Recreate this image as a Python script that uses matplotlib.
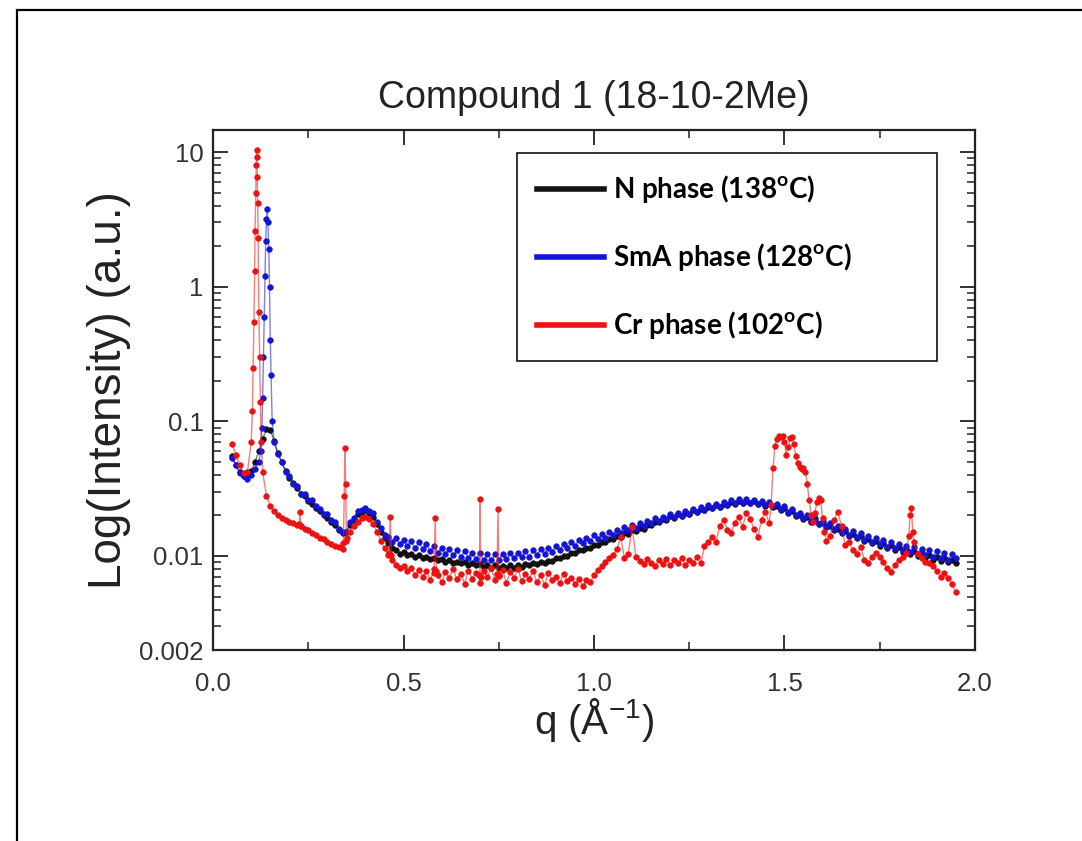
import numpy as np
import matplotlib
matplotlib.use("Agg")
import matplotlib.pyplot as plt
from matplotlib.lines import Line2D
from matplotlib.patches import Rectangle
from matplotlib.ticker import LogLocator, MultipleLocator, NullFormatter

plt.rcParams['font.family'] = ['Liberation Sans', 'DejaVu Sans']
plt.rcParams['mathtext.fontset'] = 'custom'
plt.rcParams['mathtext.bf'] = 'Lato:bold'
plt.rcParams['mathtext.rm'] = 'Lato:bold'

# q sampling grid, 0.05 .. 1.95 in steps of 0.01 (191 points)
q_grid = np.round(0.05 + 0.01 * np.arange(191), 3)

# N phase (138 C)
n_phase = [
    0.055, 0.047, 0.042, 0.039, 0.039, 0.043, 0.050, 0.060, 0.074, 0.088,
    0.086, 0.072, 0.058, 0.050, 0.043, 0.038, 0.035, 0.032, 0.029, 0.028,
    0.0255, 0.0245, 0.0228, 0.0215, 0.0200, 0.0193, 0.0180, 0.0170, 0.0155, 0.0148,
    0.0152, 0.0170, 0.0186, 0.0205, 0.0212, 0.0218, 0.0208, 0.0196, 0.0172, 0.0152,
    0.0136, 0.0124, 0.0115, 0.0110, 0.0104, 0.0107, 0.0101, 0.0104, 0.0099, 0.0101,
    0.0097, 0.0099, 0.0095, 0.0097, 0.0093, 0.0095, 0.0091, 0.0093, 0.0089, 0.0091,
    0.0088, 0.0090, 0.0086, 0.0088, 0.0085, 0.0087, 0.0083, 0.0086, 0.0082, 0.0085,
    0.0082, 0.0084, 0.0081, 0.0085, 0.0082, 0.0086, 0.0083, 0.0087, 0.0085, 0.0088,
    0.0087, 0.0090, 0.0089, 0.0092, 0.0092, 0.0096, 0.0096, 0.0100, 0.0100, 0.0105,
    0.0105, 0.0110, 0.0110, 0.0115, 0.0115, 0.0121, 0.0120, 0.0127, 0.0126, 0.0133,
    0.0133, 0.0140, 0.0139, 0.0147, 0.0146, 0.0155, 0.0153, 0.0162, 0.0160, 0.0170,
    0.0170, 0.0180, 0.0178, 0.0189, 0.0186, 0.0197, 0.0193, 0.0204, 0.0199, 0.0210,
    0.0206, 0.0218, 0.0213, 0.0225, 0.0219, 0.0232, 0.0226, 0.0239, 0.0232, 0.0245,
    0.0240, 0.0252, 0.0245, 0.0256, 0.0247, 0.0258, 0.0246, 0.0255, 0.0242, 0.0251,
    0.0237, 0.0245, 0.0231, 0.0237, 0.0221, 0.0227, 0.0209, 0.0215, 0.0198, 0.0203,
    0.0189, 0.0194, 0.0180, 0.0185, 0.0172, 0.0176, 0.0163, 0.0168, 0.0155, 0.0160,
    0.0148, 0.0153, 0.0141, 0.0146, 0.0135, 0.0140, 0.0129, 0.0134, 0.0124, 0.0129,
    0.0119, 0.0124, 0.0114, 0.0120, 0.0110, 0.0116, 0.0107, 0.0112, 0.0104, 0.0109,
    0.0100, 0.0105, 0.0097, 0.0102, 0.0094, 0.0099, 0.0092, 0.0097, 0.0090, 0.0094,
    0.0089,
]

# SmA phase (128 C)
sma_phase = [
    0.053, 0.047, 0.041, 0.039, 0.037, 0.040, 0.044, 0.050, 0.150, 3.20,
    0.40, 0.070, 0.057, 0.050, 0.042, 0.039, 0.034, 0.033, 0.029, 0.029,
    0.026, 0.026, 0.0235, 0.0225, 0.0205, 0.0205, 0.0185, 0.0178, 0.0158, 0.0152,
    0.0150, 0.0178, 0.0190, 0.0215, 0.0218, 0.0228, 0.0215, 0.0208, 0.0178, 0.0162,
    0.0142, 0.0138, 0.0126, 0.0135, 0.0122, 0.0132, 0.0118, 0.0129, 0.0114, 0.0126,
    0.0113, 0.0123, 0.0108, 0.0119, 0.0106, 0.0115, 0.0103, 0.0113, 0.0101, 0.0110,
    0.0099, 0.0109, 0.0097, 0.0106, 0.0095, 0.0105, 0.0094, 0.0103, 0.0093, 0.0104,
    0.0094, 0.0103, 0.0095, 0.0105, 0.0096, 0.0106, 0.0098, 0.0108, 0.0099, 0.0110,
    0.0102, 0.0112, 0.0104, 0.0115, 0.0107, 0.0118, 0.0110, 0.0122, 0.0115, 0.0126,
    0.0119, 0.0131, 0.0124, 0.0136, 0.0129, 0.0142, 0.0133, 0.0145, 0.0137, 0.0151,
    0.0144, 0.0157, 0.0148, 0.0163, 0.0155, 0.0169, 0.0161, 0.0177, 0.0168, 0.0182,
    0.0175, 0.0190, 0.0181, 0.0196, 0.0188, 0.0204, 0.0194, 0.0209, 0.0199, 0.0216,
    0.0206, 0.0224, 0.0213, 0.0231, 0.0219, 0.0238, 0.0226, 0.0245, 0.0233, 0.0252,
    0.0241, 0.0260, 0.0246, 0.0264, 0.0248, 0.0265, 0.0247, 0.0262, 0.0244, 0.0258,
    0.0239, 0.0252, 0.0234, 0.0245, 0.0224, 0.0234, 0.0212, 0.0222, 0.0201, 0.0210,
    0.0191, 0.0201, 0.0183, 0.0192, 0.0174, 0.0183, 0.0166, 0.0175, 0.0158, 0.0167,
    0.0151, 0.0160, 0.0144, 0.0153, 0.0138, 0.0147, 0.0132, 0.0141, 0.0127, 0.0136,
    0.0122, 0.0131, 0.0117, 0.0127, 0.0114, 0.0123, 0.0110, 0.0119, 0.0107, 0.0116,
    0.0104, 0.0113, 0.0101, 0.0110, 0.0098, 0.0108, 0.0096, 0.0105, 0.0094, 0.0103,
    0.0097,
]
sma_peak_q = [0.125, 0.128, 0.132, 0.134, 0.136, 0.138, 0.142, 0.144, 0.146, 0.148, 0.152, 0.155]
sma_peak_i = [0.060, 0.090, 0.30, 0.60, 1.2, 2.2, 3.8, 3.0, 1.9, 1.0, 0.22, 0.10]

# Cr phase (102 C)
cr_phase = [
    0.068, 0.056, 0.047, 0.041, 0.042, 0.070, 2.6, 0.65, 0.042, 0.028,
    0.0235, 0.0215, 0.0200, 0.0192, 0.0185, 0.0180, 0.0176, 0.0170, 0.0168, 0.0160,
    0.0156, 0.0149, 0.0143, 0.0137, 0.0133, 0.0127, 0.0123, 0.0119, 0.0116, 0.0113,
    0.0130, 0.0150, 0.0168, 0.0180, 0.0190, 0.0196, 0.0188, 0.0172, 0.0152, 0.0130,
    0.0114, 0.0101, 0.0093, 0.0086, 0.0082, 0.0084, 0.0077, 0.0081, 0.0072, 0.0079,
    0.0070, 0.0078, 0.0066, 0.0080, 0.0072, 0.0064, 0.0076, 0.0069, 0.0080, 0.0067,
    0.0074, 0.0062, 0.0078, 0.0068, 0.0075, 0.0063, 0.0077, 0.0070, 0.0081, 0.0066,
    0.0072, 0.0079, 0.0063, 0.0076, 0.0069, 0.0080, 0.0065, 0.0074, 0.0068, 0.0077,
    0.0064, 0.0072, 0.0061, 0.0075, 0.0066, 0.0070, 0.0063, 0.0074, 0.0065, 0.0069,
    0.0062, 0.0068, 0.0060, 0.0066, 0.0064, 0.0072, 0.0079, 0.0084, 0.0090, 0.0096,
    0.0102, 0.0112, 0.0138, 0.0096, 0.0104, 0.0165, 0.0099, 0.0092, 0.0087, 0.0095,
    0.0089, 0.0084, 0.0093, 0.0087, 0.0095, 0.0085, 0.0093, 0.0088, 0.0097, 0.0086,
    0.0094, 0.0089, 0.0098, 0.0088, 0.0118, 0.0126, 0.0139, 0.0127, 0.0166, 0.0186,
    0.0157, 0.0149, 0.0176, 0.0195, 0.0164, 0.0209, 0.0189, 0.0159, 0.0139, 0.0186,
    0.0212, 0.0176, 0.0450, 0.0740, 0.0770, 0.0700, 0.0640, 0.0760, 0.0550, 0.0460,
    0.0450, 0.0340, 0.0200, 0.0210, 0.0270, 0.0190, 0.0130, 0.0140, 0.0185, 0.0212,
    0.0168, 0.0120, 0.0126, 0.0110, 0.0104, 0.0116, 0.0094, 0.0089, 0.0099, 0.0106,
    0.0098, 0.0090, 0.0081, 0.0076, 0.0086, 0.0093, 0.0099, 0.0106, 0.0200, 0.0128,
    0.0104, 0.0097, 0.0091, 0.0088, 0.0084, 0.0077, 0.0070, 0.0075, 0.0069, 0.0062,
    0.0054,
]
cr_peak_q = [0.103, 0.105, 0.107, 0.109, 0.112, 0.113, 0.114, 0.115, 0.116, 0.117, 0.118,
             0.122, 0.124, 0.126,
             0.226, 0.228, 0.231,
             0.342, 0.344, 0.346, 0.348, 0.352,
             0.462, 0.465, 0.468,
             0.580, 0.583, 0.586,
             0.697, 0.700, 0.703,
             0.745, 0.748, 0.751,
             1.465, 1.475, 1.485, 1.495, 1.505, 1.515, 1.525, 1.535, 1.545,
             1.555, 1.565, 1.575, 1.585, 1.595, 1.605,
             1.826, 1.833, 1.837]
cr_peak_i = [0.12, 0.25, 0.55, 1.3, 5.0, 8.0, 10.4, 9.2, 6.5, 4.2, 2.3,
             0.30, 0.14, 0.07,
             0.0172, 0.0212, 0.0167,
             0.0125, 0.028, 0.063, 0.034, 0.0135,
             0.0105, 0.0195, 0.0102,
             0.0075, 0.0191, 0.0078,
             0.0072, 0.0265, 0.0070,
             0.0074, 0.0224, 0.0071,
             0.024, 0.066, 0.078, 0.078, 0.056, 0.075, 0.068, 0.049, 0.044,
             0.042, 0.026, 0.018, 0.025, 0.026, 0.015,
             0.0140, 0.0227, 0.0150]

y_ticks = [0.002, 0.01, 0.1, 1, 10]
y_ticklabels = ["0.002", "0.01", "0.1", "1", "10"]
legend_labels = [r"N phase (138$^{\mathbf{o}}$C)",
                 r"SmA phase (128$^{\mathbf{o}}$C)",
                 r"Cr phase (102$^{\mathbf{o}}$C)"]


def merge(q_a, i_a, q_b=(), i_b=()):
    q = np.concatenate([np.asarray(q_a, float), np.asarray(q_b, float)])
    i = np.concatenate([np.asarray(i_a, float), np.asarray(i_b, float)])
    order = np.argsort(q, kind="stable")
    return q[order], i[order]


series = [
    (merge(q_grid, n_phase), "#111111"),
    (merge(q_grid, sma_phase, sma_peak_q, sma_peak_i), "#1414d8"),
    (merge(q_grid, cr_phase, cr_peak_q, cr_peak_i), "#ee1111"),
]

fig = plt.figure(figsize=(10.82, 8.41), dpi=100)
ax = fig.add_axes([0.197, 0.227, 0.704, 0.618])

for (q, inten), color in series:
    ax.plot(q, inten, color=color, lw=1.0, alpha=0.55)
    ax.plot(q, inten, ls="none", marker="o", ms=4.0, mec=color, mfc=color, mew=0.5)

ax.set_yscale("log")
ax.set_xlim(0, 2.0)
ax.set_ylim(0.002, 14.5)
ax.set_xticks([0.0, 0.5, 1.0, 1.5, 2.0])
ax.set_xticklabels(["0.0", "0.5", "1.0", "1.5", "2.0"])
ax.xaxis.set_minor_locator(MultipleLocator(0.25))
ax.set_yticks(y_ticks)
ax.set_yticklabels(y_ticklabels)
ax.yaxis.set_minor_locator(LogLocator(base=10, subs=np.arange(2, 10)))
ax.yaxis.set_minor_formatter(NullFormatter())

ax.tick_params(which="both", direction="in", top=True, right=True,
               labelsize=18.5, labelcolor="#333333", color="#222222")
ax.tick_params(axis="x", which="major", pad=16)
ax.tick_params(axis="y", which="major", pad=7)
ax.tick_params(which="major", length=11, width=1.3)
ax.tick_params(which="minor", length=6, width=1.1)
for s in ax.spines.values():
    s.set_linewidth(1.6)
    s.set_color("#222222")

ax.set_xlabel(r"q ($\mathregular{\AA^{-1}}$)", fontsize=29, color="#222222", labelpad=0)
ax.set_ylabel("Log(Intensity) (a.u.)", fontsize=33, color="#222222", labelpad=6)
ax.set_title("Compound 1 (18-10-2Me)", fontsize=27, color="#222222", pad=16)

handles = [Line2D([], [], color=c, lw=4) for _, c in series]
leg = ax.legend(handles, legend_labels, loc="upper left",
                bbox_to_anchor=(0.399, 0.554, 0.551, 0.402), mode="expand",
                borderaxespad=0, prop={"family": "Lato", "weight": "bold", "size": 20},
                handlelength=2.4, handletextpad=0.35, labelspacing=1.3,
                borderpad=0.72, fancybox=False, framealpha=1)
leg.get_frame().set_edgecolor("#111111")
leg.get_frame().set_linewidth(1.2)

# outer frame around the whole figure
fig.patches.append(Rectangle((0.016, -0.02), 1.0, 1.008, transform=fig.transFigure,
                             fill=False, edgecolor="black", lw=1.6))

fig.savefig("out.png", dpi=100)
